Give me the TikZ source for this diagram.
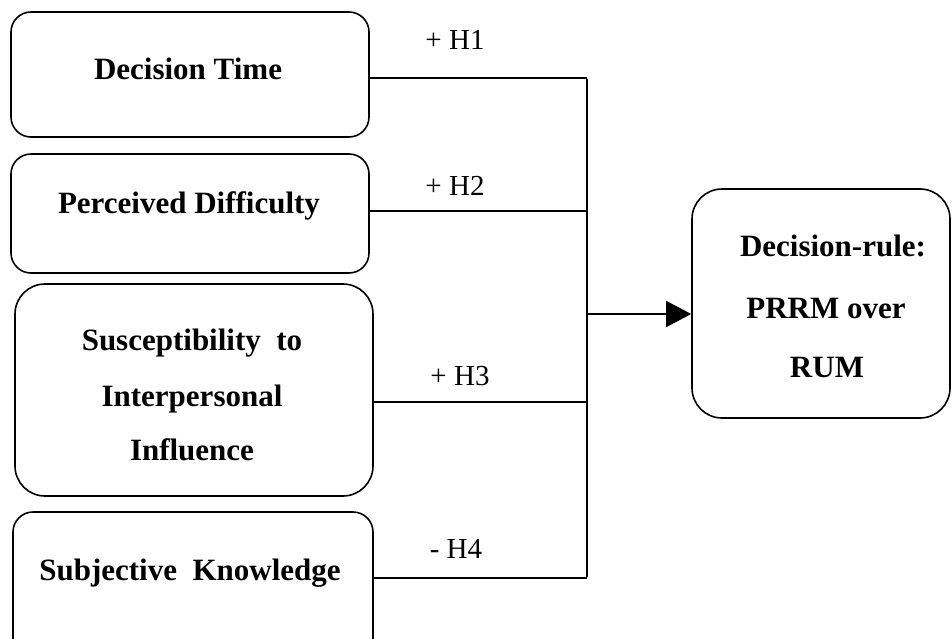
\documentclass[tikz,border=0pt]{standalone}
\usepackage{fontspec}
\setmainfont{Liberation Serif}
\usetikzlibrary{arrows.meta}
\begin{document}
\begin{tikzpicture}[x=1pt,y=-1pt,
  box/.style={draw,line width=1.6pt,rounded corners=#1,inner sep=0pt},
  box/.default=20pt,
  btext/.style={font=\fontsize{31}{55}\selectfont\bfseries,align=center,inner sep=0pt,anchor=base},
  hlabel/.style={font=\fontsize{29}{30}\selectfont,inner sep=0pt,anchor=base},
  conn/.style={line width=1.6pt}]
\useasboundingbox (0,0) rectangle (952,639);
% boxes
\node[box, minimum width=358pt, minimum height=125pt] (b1) at (190,74.5) {};
\node[box, minimum width=358pt, minimum height=119pt] (b2) at (190,213.5) {};
\node[box=30pt, minimum width=358pt, minimum height=212pt] (b3) at (194,390) {};
\node[box, minimum width=360pt, minimum height=146pt] (b4) at (193,585) {};
\node[box=30pt, minimum width=258pt, minimum height=229pt] (rb) at (821,303.5) {};
% texts
\node[btext] (t1) at (188,80) {Decision Time};
\node[btext] (t2) at (189,213) {Perceived Difficulty};
\node[btext] (t3a) at (192,350) {Susceptibility~~to};
\node[btext] (t3b) at (192,406) {Interpersonal};
\node[btext] (t3c) at (192,460) {Influence};
\node[btext] (t4) at (190,580) {Subjective~~Knowledge};
\node[btext] (r1) at (833,256) {Decision-rule:};
\node[btext] (r2) at (826,318) {PRRM over};
\node[btext] (r3) at (827,377) {RUM};
% hypothesis labels
\node[hlabel] (h1) at (455,50) {+ H1};
\node[hlabel] (h2) at (455,195) {+ H2};
\node[hlabel] (h3) at (460,385) {+ H3};
\node[hlabel] (h4) at (456,558) {- H4};
% junction coordinates
\coordinate (j1) at (587,78);
\coordinate (j2) at (587,211);
\coordinate (j3) at (587,402);
\coordinate (j4) at (587,578);
\coordinate (jm) at (587,314);
% connectors
\draw[conn] (b1.east |- j1) -- (j1);
\draw[conn] (b2.east |- j2) -- (j2);
\draw[conn] (b3.east |- j3) -- (j3);
\draw[conn] (b4.east |- j4) -- (j4);
\draw[conn] ([yshift=-0.8pt]j1) -- ([yshift=0.8pt]j4);
\draw[conn,-{Triangle[length=25pt,width=26pt]}] (jm) -- (rb.west |- jm);
\end{tikzpicture}
\end{document}
